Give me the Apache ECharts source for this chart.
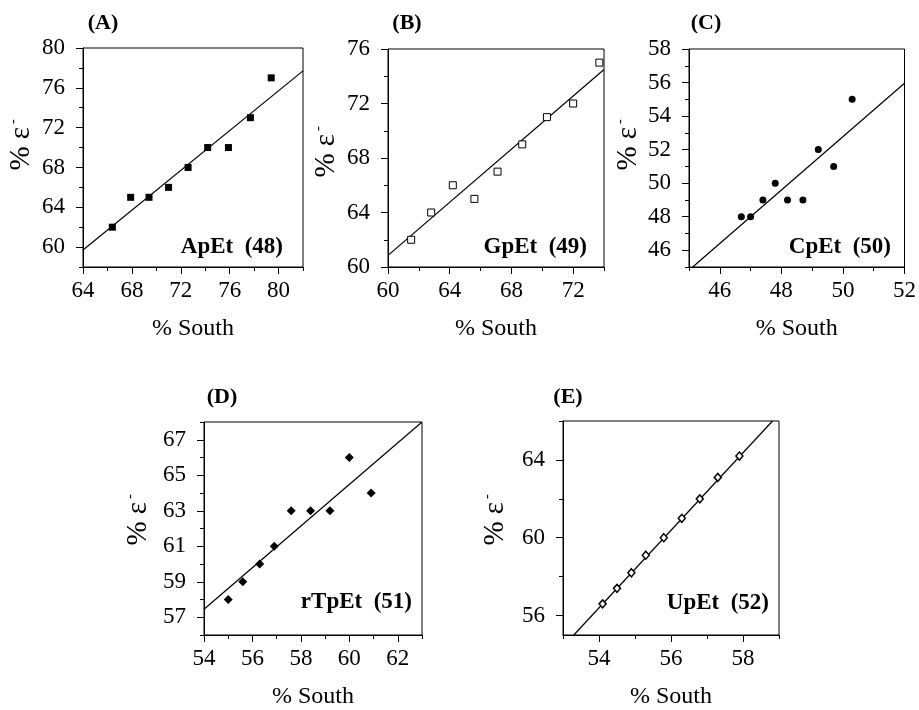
<!DOCTYPE html>
<html>
<head>
<meta charset="utf-8">
<script src="https://cdn.jsdelivr.net/npm/echarts@6/dist/echarts.min.js"></script>
<style>
html,body{margin:0;padding:0;background:#fff;}
#chart{width:919px;height:710px;}
</style>
</head>
<body>
<div id="chart"></div>
<script>
// ---- Data ----
const panelTitles = ['(A)', '(B)', '(C)', '(D)', '(E)'];
const panelLabels = ['ApEt  (48)', 'GpEt  (49)', 'CpEt  (50)', 'rTpEt  (51)', 'UpEt  (52)'];
const xTitle = '% South';

const xA = [66.4, 67.9, 69.4, 71.0, 72.6, 74.2, 75.9, 77.7, 79.4];
const yA = [62, 65, 65, 66, 68, 70, 70, 73, 77];
const fitAx = [64, 82];
const fitAy = [59.7, 77.7];

const xB = [61.5, 62.8, 64.2, 65.6, 67.1, 68.7, 70.3, 72.0, 73.7];
const yB = [62, 64, 66, 65, 67, 69, 71, 72, 75];
const fitBx = [60, 74];
const fitBy = [60.85, 74.5];

const xC = [46.7, 47.0, 47.4, 47.8, 48.2, 48.7, 49.2, 49.7, 50.3];
const yC = [48, 48, 49, 50, 49, 49, 52, 51, 55];
const fitCx = [45.12, 52];
const fitCy = [45, 55.96];

const xD = [55.0, 55.6, 56.3, 56.9, 57.6, 58.4, 59.2, 60.0, 60.9];
const yD = [58, 59, 60, 61, 63, 63, 63, 66, 64];
const fitDx = [54, 63];
const fitDy = [57.45, 68];

const xE = [54.1, 54.5, 54.9, 55.3, 55.8, 56.3, 56.8, 57.3, 57.9];
const yE = [56.6, 57.4, 58.2, 59.1, 60.0, 61.0, 62.0, 63.1, 64.2];
const fitEx = [53.3, 58.82];
const fitEy = [55, 66];

// axis ranges and tick values
const xRanges = [[64, 82], [60, 74], [45, 52], [54, 63], [53, 59]];
const yRanges = [[58, 80], [60, 76], [45, 58], [56, 68], [55, 66]];
const xMajor = [[64, 68, 72, 76, 80], [60, 64, 68, 72], [46, 48, 50, 52], [54, 56, 58, 60, 62], [54, 56, 58]];
const xMinor = [[66, 70, 74, 78, 82], [62, 66, 70, 74], [45, 47, 49, 51], [55, 57, 59, 61, 63], [53, 55, 57, 59]];
const yMajor = [[60, 64, 68, 72, 76, 80], [60, 64, 68, 72, 76], [46, 48, 50, 52, 54, 56, 58], [57, 59, 61, 63, 65, 67], [56, 60, 64]];
const yMinor = [[58, 62, 66, 70, 74, 78], [62, 66, 70, 74], [45, 47, 49, 51, 53, 55, 57], [56, 58, 60, 62, 64, 66, 68], [58, 62, 66]];

// ---- Layout / styles ----
const grids = [
  {left: 83, top: 48, width: 220, height: 219},
  {left: 388, top: 49, width: 216, height: 218},
  {left: 689, top: 49, width: 218, height: 218},
  {left: 204, top: 422, width: 218, height: 216},
  {left: 563, top: 421, width: 216, height: 217}
];
const titlePos = [[103, 23], [407, 23], [706, 23], [222, 397], [568, 397]];
const labelPos = [[283, 247], [587, 247], [891, 247], [412, 602], [769, 603]];
const yNamePos = [[21, 145], [326, 152], [628, 145], [138, 520], [495, 520]];

const FONT = '"Liberation Serif", "Times New Roman", serif';
const markers = [
  {symbol: 'rect', size: 7, color: '#000', border: '#000', bw: 0},
  {symbol: 'rect', size: 7, color: '#fff', border: '#000', bw: 1},
  {symbol: 'circle', size: 7, color: '#000', border: '#000', bw: 0},
  {symbol: 'diamond', size: [9, 9], color: '#000', border: '#000', bw: 0},
  {symbol: 'diamond', size: [7, 8], color: '#fff', border: '#000', bw: 1.5}
];

const xs = [xA, xB, xC, xD, xE];
const ys = [yA, yB, yC, yD, yE];
const fx = [fitAx, fitBx, fitCx, fitDx, fitEx];
const fy = [fitAy, fitBy, fitCy, fitDy, fitEy];

const option = {
  animation: false,
  backgroundColor: '#fff',
  grid: [], xAxis: [], yAxis: [], series: [], graphic: []
};

for (let i = 0; i < 5; i++) {
  option.grid.push(Object.assign({show: true, borderColor: '#000', borderWidth: 1, backgroundColor: 'transparent'}, grids[i]));
  option.xAxis.push({
    type: 'value', gridIndex: i, min: xRanges[i][0], max: xRanges[i][1], position: 'bottom',
    name: xTitle, nameLocation: 'middle', nameGap: 50,
    nameTextStyle: {fontFamily: FONT, fontSize: 24, color: '#000'},
    axisLine: {show: true, onZero: false, lineStyle: {color: '#000', width: 1}},
    axisTick: {show: true, inside: false, length: 7, customValues: xMajor[i], lineStyle: {color: '#000'}},
    axisLabel: {show: true, customValues: xMajor[i], margin: 12, fontFamily: FONT, fontSize: 23, color: '#000'},
    splitLine: {show: false}
  });
  option.yAxis.push({
    type: 'value', gridIndex: i, min: yRanges[i][0], max: yRanges[i][1], position: 'left',
    axisLine: {show: true, onZero: false, lineStyle: {color: '#000', width: 1}},
    axisTick: {show: true, inside: false, length: 7, customValues: yMajor[i], lineStyle: {color: '#000'}},
    axisLabel: {show: true, customValues: yMajor[i], margin: 18, fontFamily: FONT, fontSize: 23, color: '#000'},
    splitLine: {show: false}
  });
}
for (let i = 0; i < 5; i++) {
  option.xAxis.push({
    type: 'value', gridIndex: i, min: xRanges[i][0], max: xRanges[i][1], position: 'bottom', offset: 0,
    axisLine: {show: false, onZero: false},
    axisTick: {show: true, inside: false, length: 4, customValues: xMinor[i], lineStyle: {color: '#000'}},
    axisLabel: {show: false}, splitLine: {show: false}
  });
  option.yAxis.push({
    type: 'value', gridIndex: i, min: yRanges[i][0], max: yRanges[i][1], position: 'left', offset: 0,
    axisLine: {show: false, onZero: false},
    axisTick: {show: true, inside: false, length: 4, customValues: yMinor[i], lineStyle: {color: '#000'}},
    axisLabel: {show: false}, splitLine: {show: false}
  });
}
for (let i = 0; i < 5; i++) {
  const m = markers[i];
  option.series.push({
    type: 'line', xAxisIndex: i, yAxisIndex: i,
    data: fx[i].map((v, k) => [v, fy[i][k]]),
    showSymbol: false, symbol: 'none',
    lineStyle: {color: '#000', width: 1.2}, z: 2, silent: true
  });
  option.series.push({
    type: 'scatter', xAxisIndex: i, yAxisIndex: i,
    data: xs[i].map((v, k) => [v, ys[i][k]]),
    symbol: m.symbol, symbolSize: m.size,
    itemStyle: {color: m.color, borderColor: m.border, borderWidth: m.bw, opacity: 1},
    z: 3, silent: true
  });
  option.graphic.push({
    type: 'text', x: titlePos[i][0], y: titlePos[i][1],
    style: {text: panelTitles[i], fontFamily: FONT, fontWeight: 'bold', fontSize: 22, fill: '#000', align: 'center', verticalAlign: 'middle'}
  });
  option.graphic.push({
    type: 'text', x: labelPos[i][0], y: labelPos[i][1],
    style: {text: panelLabels[i], fontFamily: FONT, fontWeight: 'bold', fontSize: 23, fill: '#000', align: 'right', verticalAlign: 'middle'}
  });
  option.graphic.push({
    type: 'text', x: yNamePos[i][0], y: yNamePos[i][1], rotation: Math.PI / 2,
    style: {
      text: '{a|% ε}{s|-}',
      align: 'center', verticalAlign: 'middle',
      rich: {
        a: {fontFamily: FONT, fontSize: 29, fill: '#000', color: '#000'},
        s: {fontFamily: FONT, fontSize: 14, fill: '#000', color: '#000', verticalAlign: 'top', padding: [0, 0, 16, 3]}
      }
    }
  });
}

const chart = echarts.init(document.getElementById('chart'), null, {renderer: 'canvas'});
chart.setOption(option);
</script>
</body>
</html>
